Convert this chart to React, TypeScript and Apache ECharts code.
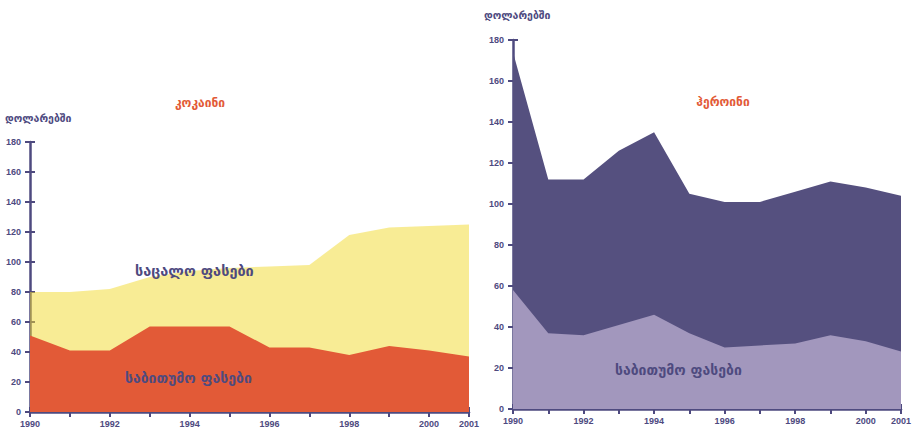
import React, { useEffect, useRef } from "react";
import * as echarts from "echarts";

const years = ["1990","1991","1992","1993","1994","1995","1996","1997","1998","1999","2000","2001"];
const yTicks = { min: 0, max: 180, interval: 20 };
const labeledYearIdx = [0, 2, 4, 6, 8, 10, 11];

const cocaineWholesale = [51, 41, 41, 57, 57, 57, 43, 43, 38, 44, 41, 37];
const cocaineRetail = [80, 80, 82, 90, 94, 96, 97, 98, 118, 123, 124, 125];

const heroinRetail = [174, 112, 112, 126, 135, 105, 101, 101, 106, 111, 108, 104];
const heroinWholesale = [58, 37, 36, 41, 46, 37, 30, 31, 32, 36, 33, 28];

const titleCocaine = "კოკაინი";
const titleHeroin = "ჰეროინი";
const unitLabel = "დოლარებში";
const retailLabel = "საცალო ფასები";
const wholesaleLabel = "საბითუმო ფასები";

const AXIS = "#4e4a7f";
const ORANGE = "#e25a37";
const DARK = "#55507f";
const LIGHT = "#a297bd";
const YELLOW = "#f2d92c";
const GEO = "DejaVu Sans";

const leftGrid = { left: 30, right: 449, top: 142, bottom: 19 };
const rightGrid = { left: 513, right: 17, top: 40, bottom: 22 };

function makeX(gridIndex: number, ticksOnly: boolean) {
  return {
    type: "category",
    gridIndex,
    position: "bottom",
    data: years,
    boundaryGap: false,
    axisLine: { show: !ticksOnly, lineStyle: { color: AXIS, width: 2.5 } },
    axisTick: { show: true, inside: ticksOnly, length: 5, interval: 0, lineStyle: { color: AXIS, width: 2 } },
    axisLabel: {
      show: !ticksOnly,
      interval: (i: number) => labeledYearIdx.indexOf(i) >= 0,
      color: AXIS,
      fontFamily: "Liberation Sans",
      fontWeight: "bold",
      fontSize: 9,
      margin: 7,
    },
    splitLine: { show: false },
  };
}

function makeY(gridIndex: number, ticksOnly: boolean) {
  return {
    type: "value",
    gridIndex,
    position: "left",
    min: yTicks.min,
    max: yTicks.max,
    interval: yTicks.interval,
    axisLine: { show: !ticksOnly, lineStyle: { color: AXIS, width: 2.5 } },
    axisTick: { show: true, inside: ticksOnly, length: 5, lineStyle: { color: AXIS, width: 2 } },
    axisLabel: {
      show: !ticksOnly,
      color: AXIS,
      fontFamily: "Liberation Sans",
      fontWeight: "bold",
      fontSize: 9,
      margin: 9,
    },
    splitLine: { show: false },
  };
}

function geoText(text: string, x: number, y: number, color: string, size: number, align = "left") {
  return {
    type: "text",
    x,
    y,
    z: 100,
    style: {
      text,
      fill: color,
      font: `bold ${size}px "${GEO}"`,
      textAlign: align,
      textVerticalAlign: "middle",
    },
  };
}

export default function App() {
  const ref = useRef<HTMLDivElement>(null);
  useEffect(() => {
    if (!ref.current) return;
    const chart = echarts.init(ref.current, undefined, { renderer: "svg" });
    chart.setOption({
      animation: false,
      backgroundColor: "#ffffff",
      grid: [leftGrid, rightGrid, { ...leftGrid, z: 5 }, { ...rightGrid, z: 5 }],
      xAxis: [makeX(0, false), makeX(1, false), makeX(2, true), makeX(3, true)],
      yAxis: [makeY(0, false), makeY(1, false), makeY(2, true), makeY(3, true)],
      series: [
        {
          type: "line",
          name: "cocaine retail",
          xAxisIndex: 0,
          yAxisIndex: 0,
          data: cocaineRetail,
          symbol: "none",
          lineStyle: { width: 0 },
          areaStyle: { color: YELLOW, opacity: 0.5 },
          z: 1,
        },
        {
          type: "line",
          name: "cocaine wholesale",
          xAxisIndex: 0,
          yAxisIndex: 0,
          data: cocaineWholesale,
          symbol: "none",
          lineStyle: { width: 0 },
          areaStyle: { color: ORANGE, opacity: 1 },
          z: 2,
        },
        {
          type: "line",
          name: "heroin retail",
          xAxisIndex: 1,
          yAxisIndex: 1,
          data: heroinRetail,
          symbol: "none",
          lineStyle: { width: 0 },
          areaStyle: { color: DARK, opacity: 1 },
          z: 1,
        },
        {
          type: "line",
          name: "heroin wholesale",
          xAxisIndex: 1,
          yAxisIndex: 1,
          data: heroinWholesale,
          symbol: "none",
          lineStyle: { width: 0 },
          areaStyle: { color: LIGHT, opacity: 1 },
          z: 2,
        },
      ],
      graphic: [
        geoText(titleCocaine, 200, 103, ORANGE, 12, "center"),
        geoText(titleHeroin, 723, 102, ORANGE, 12, "center"),
        geoText(unitLabel, 5, 118, AXIS, 10.5),
        geoText(unitLabel, 484, 15, AXIS, 10.5),
        geoText(retailLabel, 135, 271, AXIS, 14.5),
        geoText(wholesaleLabel, 125, 378, AXIS, 14),
        geoText(wholesaleLabel, 615, 370, AXIS, 14),
      ],
    });
    return () => chart.dispose();
  }, []);
  return (
    <div
      ref={ref}
      style={{ position: "fixed", left: 0, top: 0, width: 918, height: 431 }}
    />
  );
}
